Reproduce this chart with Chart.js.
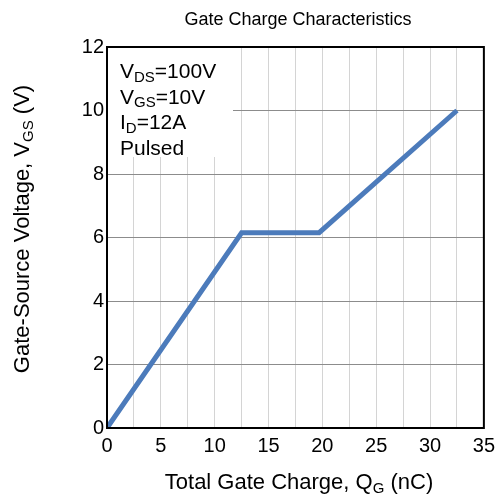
<!DOCTYPE html>
<html>
<head>
<meta charset="utf-8">
<script src="https://cdn.jsdelivr.net/npm/chart.js@4"></script>
<style>
  html, body { margin: 0; padding: 0; background: #fff; }
  #wrap { width: 501px; height: 500px; }
</style>
</head>
<body>
<div id="wrap"><canvas id="gateChart" width="501" height="500"></canvas></div>
<script>
// Data
const chargeNC = [0, 12.5, 19.7, 32.5];
const gateVolts = [0, 6.15, 6.15, 10];
const xTicks = [0, 5, 10, 15, 20, 25, 30, 35];
const yTicks = [0, 2, 4, 6, 8, 10, 12];
const conditions = [
    ['V', 'DS', '=100V'],
    ['V', 'GS', '=10V'],
    ['I', 'D', '=12A'],
    ['Pulsed', '', '']
];

const FONT = 'Liberation Sans, Arial, sans-serif';

// draw "main + sub + rest" pieces starting at x
function drawSubText(ctx, x, y, main, sub, rest, size) {
    ctx.font = size + 'px ' + FONT;
    ctx.fillText(main, x, y);
    x += ctx.measureText(main).width;
    if (sub) {
        ctx.font = Math.round(size * 0.7) + 'px ' + FONT;
        ctx.fillText(sub, x, y + size * 0.18);
        x += ctx.measureText(sub).width;
    }
    ctx.font = size + 'px ' + FONT;
    ctx.fillText(rest, x, y);
    x += ctx.measureText(rest).width;
    return x;
}

function subWidth(ctx, main, sub, rest, size) {
    ctx.font = size + 'px ' + FONT;
    let w = ctx.measureText(main).width + ctx.measureText(rest).width;
    ctx.font = Math.round(size * 0.7) + 'px ' + FONT;
    w += ctx.measureText(sub).width;
    return w;
}

const decorPlugin = {
    id: 'decor',
    beforeDatasetsDraw(chart) {
        const ctx = chart.ctx;
        const a = chart.chartArea;
        // white box under the test conditions
        ctx.save();
        ctx.fillStyle = '#fff';
        ctx.fillRect(a.left + 1, a.top + 1, 125, 109);
        ctx.restore();
    },
    afterDraw(chart) {
        const ctx = chart.ctx;
        const a = chart.chartArea;
        ctx.save();
        ctx.fillStyle = '#000';
        ctx.textBaseline = 'alphabetic';
        ctx.textAlign = 'left';

        // frame
        ctx.strokeStyle = '#000';
        ctx.lineWidth = 2;
        ctx.strokeRect(a.left, a.top, a.right - a.left, a.bottom - a.top);

        // title
        ctx.font = '18px ' + FONT;
        ctx.textAlign = 'center';
        ctx.fillText('Gate Charge Characteristics', 298, 25);
        ctx.textAlign = 'left';

        // test conditions
        conditions.forEach((c, i) => {
            drawSubText(ctx, a.left + 13, 78 + i * 25.5, c[0], c[1], c[2], 21);
        });

        // x axis title
        const xs = 22;
        const xw = subWidth(ctx, 'Total Gate Charge, Q', 'G', ' (nC)', xs);
        drawSubText(ctx, 299 - xw / 2, 489, 'Total Gate Charge, Q', 'G', ' (nC)', xs);

        // y axis title (rotated)
        ctx.translate(29, 229);
        ctx.rotate(-Math.PI / 2);
        const yw = subWidth(ctx, 'Gate-Source Voltage, V', 'GS', ' (V)', xs);
        drawSubText(ctx, -yw / 2, 0, 'Gate-Source Voltage, V', 'GS', ' (V)', xs);
        ctx.restore();
    }
};

const ctx = document.getElementById('gateChart').getContext('2d');
new Chart(ctx, {
    type: 'line',
    data: {
        datasets: [{
            data: chargeNC.map((q, i) => ({ x: q, y: gateVolts[i] })),
            borderColor: '#4c7bbb',
            borderWidth: 5,
            pointRadius: 0,
            tension: 0,
            borderCapStyle: 'butt',
            borderJoinStyle: 'miter'
        }]
    },
    options: {
        responsive: false,
        animation: false,
        layout: { padding: { top: 47, right: 13, left: 0, bottom: 0 } },
        plugins: {
            legend: { display: false },
            tooltip: { enabled: false }
        },
        scales: {
            x: {
                type: 'linear',
                min: xTicks[0],
                max: xTicks[xTicks.length - 1],
                afterBuildTicks: s => {
                    s.ticks = [];
                    for (let v = 0; v <= 35; v += 2.5) s.ticks.push({ value: v });
                },
                afterFit: s => { s.height = 72; },
                grid: { color: '#d4d4d4', lineWidth: 1, drawTicks: false },
                border: { display: false },
                ticks: {
                    padding: 6,
                    color: '#000',
                    font: { family: FONT, size: 20 },
                    maxRotation: 0,
                    autoSkip: false,
                    callback: v => xTicks.includes(v) ? String(v) : ''
                }
            },
            y: {
                type: 'linear',
                min: yTicks[0],
                max: yTicks[yTicks.length - 1],
                afterBuildTicks: s => { s.ticks = yTicks.map(v => ({ value: v })); },
                afterFit: s => { s.width = 107; },
                grid: { color: '#8c8c8c', lineWidth: 1, drawTicks: false },
                border: { display: false },
                ticks: {
                    padding: 3,
                    color: '#000',
                    font: { family: FONT, size: 20 }
                }
            }
        }
    },
    plugins: [decorPlugin]
});
</script>
</body>
</html>
